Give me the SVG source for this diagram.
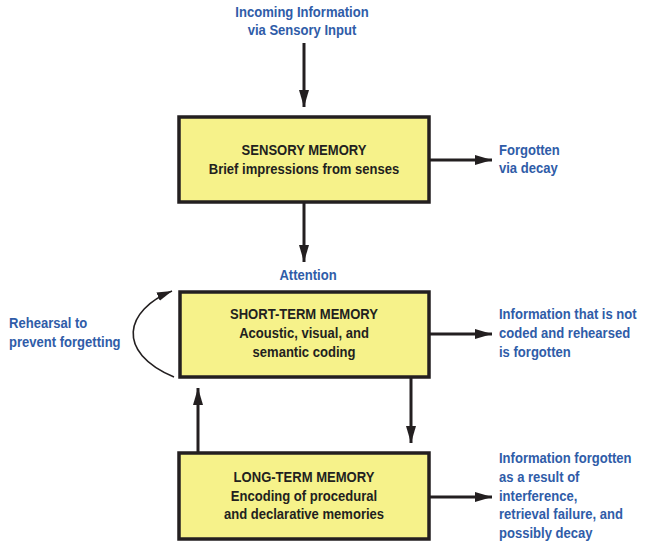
<svg xmlns="http://www.w3.org/2000/svg" width="650" height="555" viewBox="0 0 650 555">
<defs>
<style>
.box{fill:#f6f28a;stroke:#231f20;stroke-width:3.5}
.t{font-family:"Liberation Sans",Arial,sans-serif;font-weight:bold;font-size:15px;fill:#231f20;text-anchor:middle}
.b{font-family:"Liberation Sans",Arial,sans-serif;font-weight:bold;font-size:15px;fill:#2f5ca8}
.c{text-anchor:middle}
.ln{stroke:#231f20;stroke-width:3;fill:none}
.thin{stroke:#231f20;stroke-width:1.6;fill:none}
</style>
<marker id="ah" markerUnits="userSpaceOnUse" markerWidth="18" markerHeight="10" refX="17" refY="5" orient="auto">
<path d="M0,0 L17,5 L0,10 Z" fill="#231f20"/>
</marker>
<marker id="ahs" markerUnits="userSpaceOnUse" markerWidth="16" markerHeight="10" refX="15" refY="5" orient="auto">
<path d="M0,0.5 L15,5 L0,9.5 Z" fill="#231f20"/>
</marker>
</defs>
<g id="connectors">
<line class="ln" x1="304" y1="43" x2="304" y2="107" marker-end="url(#ah)"/>
<line class="ln" x1="304" y1="202" x2="304" y2="262" marker-end="url(#ah)"/>
<line class="ln" x1="429" y1="160" x2="492" y2="160" marker-end="url(#ah)"/>
<line class="ln" x1="429" y1="334" x2="492" y2="334" marker-end="url(#ah)"/>
<line class="ln" x1="429" y1="497" x2="492" y2="497" marker-end="url(#ah)"/>
<line class="ln" x1="411" y1="377" x2="411" y2="443" marker-end="url(#ah)"/>
<line class="ln" x1="198" y1="453" x2="198" y2="388" marker-end="url(#ah)"/>
<path class="thin" d="M174,377 C115,352 125,310 172,291" marker-end="url(#ahs)"/>
</g>
<g id="incoming" transform="translate(302 0) scale(0.87 1)">
<text class="b c" x="0" y="17">Incoming Information</text>
<text class="b c" x="0" y="35">via Sensory Input</text>
</g>
<g id="sensory">
<rect class="box" x="179" y="117" width="250" height="85"/>
<g transform="translate(304 0) scale(0.87 1)">
<text class="t" x="0" y="155">SENSORY MEMORY</text>
<text class="t" x="0" y="174">Brief impressions from senses</text>
</g>
</g>
<g id="forgotten-decay" transform="translate(499 0) scale(0.87 1)">
<text class="b" x="0" y="155">Forgotten</text>
<text class="b" x="0" y="173">via decay</text>
</g>
<g id="attention" transform="translate(308 0) scale(0.87 1)">
<text class="b c" x="0" y="280">Attention</text>
</g>
<g id="short-term">
<rect class="box" x="180" y="292" width="249" height="85"/>
<g transform="translate(304 0) scale(0.87 1)">
<text class="t" x="0" y="319">SHORT-TERM MEMORY</text>
<text class="t" x="0" y="338">Acoustic, visual, and</text>
<text class="t" x="0" y="357">semantic coding</text>
</g>
</g>
<g id="rehearsal" transform="translate(9 0) scale(0.87 1)">
<text class="b" x="0" y="328">Rehearsal to</text>
<text class="b" x="0" y="347">prevent forgetting</text>
</g>
<g id="stm-forgotten" transform="translate(499 0) scale(0.87 1)">
<text class="b" x="0" y="319">Information that is not</text>
<text class="b" x="0" y="338">coded and rehearsed</text>
<text class="b" x="0" y="357">is forgotten</text>
</g>
<g id="long-term">
<rect class="box" x="179" y="453" width="250" height="86"/>
<g transform="translate(304 0) scale(0.87 1)">
<text class="t" x="0" y="482">LONG-TERM MEMORY</text>
<text class="t" x="0" y="501">Encoding of procedural</text>
<text class="t" x="0" y="519">and declarative memories</text>
</g>
</g>
<g id="ltm-forgotten" transform="translate(499 0) scale(0.87 1)">
<text class="b" x="0" y="463">Information forgotten</text>
<text class="b" x="0" y="482">as a result of</text>
<text class="b" x="0" y="501">interference,</text>
<text class="b" x="0" y="519">retrieval failure, and</text>
<text class="b" x="0" y="538">possibly decay</text>
</g>
</svg>
